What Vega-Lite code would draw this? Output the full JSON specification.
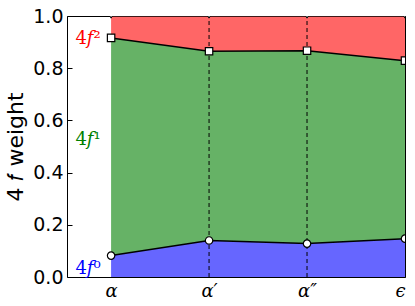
{
  "$schema": "https://vega.github.io/schema/vega-lite/v6.json",
  "autosize": "none",
  "width": 338,
  "height": 261,
  "padding": {"left": 67, "top": 16, "right": 10, "bottom": 29},
  "config": {
    "view": {"stroke": "black", "strokeWidth": 1},
    "axis": {"grid": false, "domain": false, "labelFont": "DejaVu Sans", "titleFont": "DejaVu Sans", "labelColor": "black", "titleColor": "black", "tickColor": "black"}
  },
  "datasets": {
    "w": [
      {"x": 0, "lo": 0.082, "hi": 0.916, "zero": 0, "one": 1},
      {"x": 1, "lo": 0.140, "hi": 0.865, "zero": 0, "one": 1},
      {"x": 2, "lo": 0.128, "hi": 0.867, "zero": 0, "one": 1},
      {"x": 3, "lo": 0.147, "hi": 0.829, "zero": 0, "one": 1}
    ],
    "labels": [
      {"x": -0.235, "y": 0.91, "t": "4𝑓²", "c": "red"},
      {"x": -0.235, "y": 0.525, "t": "4𝑓¹", "c": "green"},
      {"x": -0.235, "y": 0.03, "t": "4𝑓⁰", "c": "blue"}
    ]
  },
  "resolve": {"axis": {"y": "independent", "x": "independent"}},
  "layer": [
    {
      "data": {"name": "w"},
      "mark": {"type": "area", "color": "#6666ff", "opacity": 1},
      "encoding": {
        "x": {"field": "x", "type": "quantitative", "scale": {"domain": [-0.45, 3], "nice": false, "zero": false},
          "axis": {"values": [0, 1, 2, 3], "title": null, "ticks": false, "labelPadding": 5, "labelFont": "DejaVu Serif", "labelFontStyle": "italic", "labelFontSize": 18,
            "labelExpr": "datum.value == 0 ? 'α' : datum.value == 1 ? 'α′' : datum.value == 2 ? 'α″' : 'ϵ'"}},
        "y": {"field": "lo", "type": "quantitative", "scale": {"domain": [0, 1], "nice": false},
          "axis": {"values": [0, 0.2, 0.4, 0.6, 0.8, 1.0], "format": ".1f", "labelFontSize": 19, "tickSize": -5, "labelPadding": 9, "title": "4 𝑓 weight", "titleFontSize": 22, "titleFontWeight": "normal", "titlePadding": 5}},
        "y2": {"field": "zero"}
      }
    },
    {
      "data": {"name": "w"},
      "mark": {"type": "area", "color": "#66b266", "opacity": 1},
      "encoding": {
        "x": {"field": "x", "type": "quantitative", "axis": null},
        "y": {"field": "lo", "type": "quantitative", "axis": {"orient": "right", "labels": false, "tickSize": -5, "title": null, "values": [0, 0.2, 0.4, 0.6, 0.8, 1.0]}},
        "y2": {"field": "hi"}
      }
    },
    {
      "data": {"name": "w"},
      "mark": {"type": "area", "color": "#ff6666", "opacity": 1},
      "encoding": {
        "x": {"field": "x", "type": "quantitative", "axis": null},
        "y": {"field": "hi", "type": "quantitative", "axis": null},
        "y2": {"field": "one"}
      }
    },
    {
      "data": {"name": "w"},
      "transform": [{"filter": "datum.x == 1 || datum.x == 2"}],
      "mark": {"type": "rule", "color": "black", "strokeDash": [4, 3], "strokeWidth": 1},
      "encoding": {
        "x": {"field": "x", "type": "quantitative", "axis": null},
        "y": {"field": "zero", "type": "quantitative", "axis": null},
        "y2": {"field": "one"}
      }
    },
    {
      "data": {"name": "w"},
      "mark": {"type": "line", "color": "black", "strokeWidth": 1.5, "clip": true},
      "encoding": {
        "x": {"field": "x", "type": "quantitative", "axis": null},
        "y": {"field": "lo", "type": "quantitative", "axis": null}
      }
    },
    {
      "data": {"name": "w"},
      "mark": {"type": "line", "color": "black", "strokeWidth": 1.5, "clip": true},
      "encoding": {
        "x": {"field": "x", "type": "quantitative", "axis": null},
        "y": {"field": "hi", "type": "quantitative", "axis": null}
      }
    },
    {
      "data": {"name": "w"},
      "mark": {"type": "line", "color": "black", "strokeWidth": 1.5, "clip": true},
      "encoding": {
        "x": {"field": "x", "type": "quantitative", "axis": null},
        "y": {"field": "one", "type": "quantitative", "axis": null}
      }
    },
    {
      "data": {"name": "w"},
      "mark": {"type": "point", "shape": "circle", "filled": true, "fill": "white", "stroke": "black", "strokeWidth": 1.2, "size": 55, "opacity": 1, "clip": true},
      "encoding": {
        "x": {"field": "x", "type": "quantitative", "axis": null},
        "y": {"field": "lo", "type": "quantitative", "axis": null}
      }
    },
    {
      "data": {"name": "w"},
      "mark": {"type": "point", "shape": "square", "filled": true, "fill": "white", "stroke": "black", "strokeWidth": 1.2, "size": 55, "opacity": 1, "clip": true},
      "encoding": {
        "x": {"field": "x", "type": "quantitative", "axis": null},
        "y": {"field": "hi", "type": "quantitative", "axis": null}
      }
    },
    {
      "data": {"name": "w"},
      "mark": {"type": "point", "shape": "triangle-down", "filled": true, "fill": "white", "stroke": "black", "strokeWidth": 1, "size": 25, "opacity": 1, "clip": true},
      "encoding": {
        "x": {"field": "x", "type": "quantitative", "axis": null},
        "y": {"field": "one", "type": "quantitative", "axis": null}
      }
    },
    {
      "data": {"name": "labels"},
      "mark": {"type": "text", "font": "DejaVu Serif", "fontSize": 18, "align": "center", "baseline": "middle"},
      "encoding": {
        "x": {"field": "x", "type": "quantitative", "axis": null},
        "y": {"field": "y", "type": "quantitative", "axis": null},
        "text": {"field": "t"},
        "color": {"field": "c", "type": "nominal", "scale": null}
      }
    }
  ]
}
